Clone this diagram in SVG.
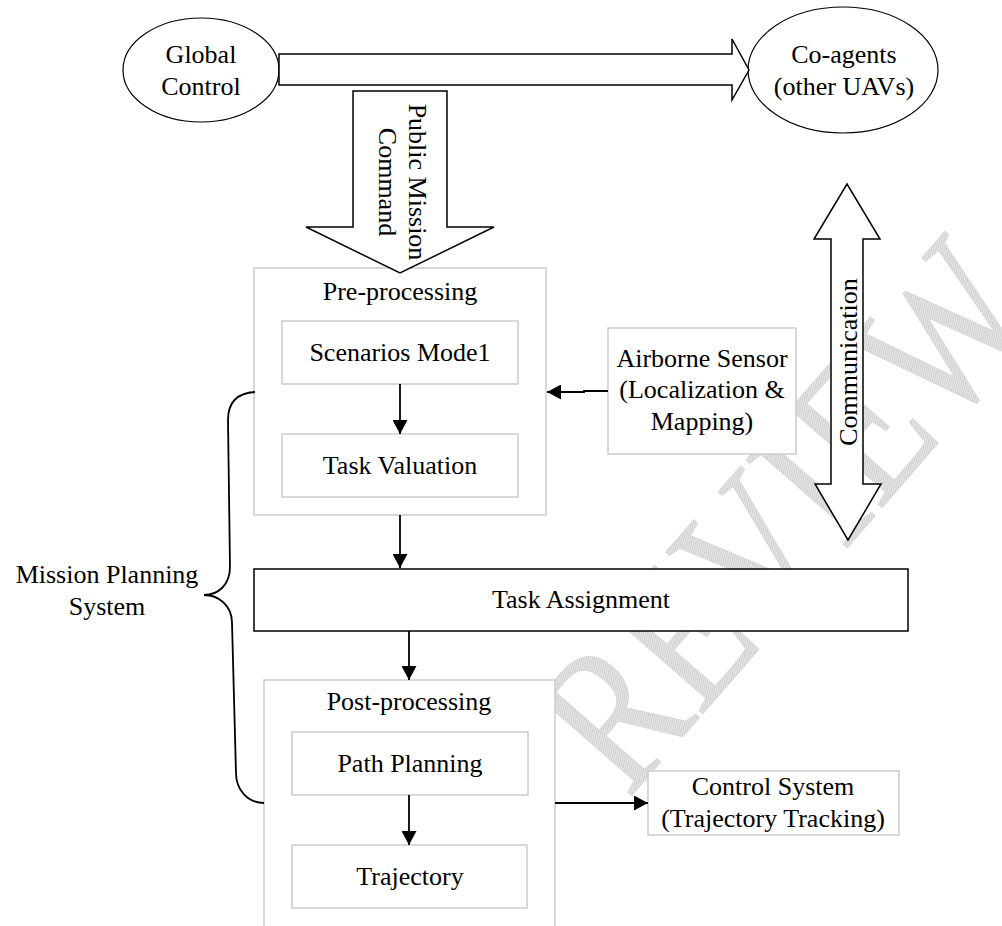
<svg xmlns="http://www.w3.org/2000/svg" width="1002" height="926" viewBox="0 0 1002 926">
<defs>
<style>
text{font-family:"Liberation Serif","Times New Roman",serif;font-size:26px;fill:#000;text-anchor:middle}
.gbox{fill:#fff;stroke:#cccccc;stroke-width:1.5}
.bbox{fill:#fff;stroke:#000;stroke-width:1.5}
.blk{fill:#fff;stroke:#000;stroke-width:1.5;stroke-linejoin:miter}
.ell{fill:#fff;stroke:#000;stroke-width:1.2}
.con{fill:none;stroke:#000;stroke-width:1.8}
.wm{font-size:205px;fill:url(#hatch);stroke:#d2d2d2;stroke-width:0.6;text-anchor:start}
</style>
<pattern id="hatch" width="3" height="3" patternUnits="userSpaceOnUse">
<rect width="3" height="3" fill="#e6e6e6"/>
<path d="M0,3 L3,0" stroke="#c6c6c6" stroke-width="1"/>
</pattern>
<marker id="ah" markerUnits="userSpaceOnUse" markerWidth="15" markerHeight="15" refX="14" refY="7.5" orient="auto">
<path d="M0,0 L14,7.5 L0,15 Z" fill="#000"/>
</marker>
</defs>
<rect width="1002" height="926" fill="#fff"/>
<g id="watermark">
<text class="wm" transform="translate(628,800) rotate(-49) scale(0.8,1)">REVIEW</text>
</g>
<g id="global-control">
<ellipse class="ell" cx="201" cy="70" rx="78" ry="52"/>
<text x="201" y="63">Global</text>
<text x="201" y="95">Control</text>
</g>
<g id="co-agents">
<ellipse class="ell" cx="843" cy="70" rx="95" ry="63"/>
<text x="844" y="63">Co-agents</text>
<text x="844" y="95">(other UAVs)</text>
</g>
<g id="pre-processing">
<rect class="gbox" x="254" y="268" width="292" height="247"/>
<text x="400" y="300">Pre-processing</text>
</g>
<g id="scenarios-model">
<rect class="gbox" x="282" y="321" width="236" height="63"/>
<text x="400" y="361">Scenarios Mode1</text>
</g>
<g id="task-valuation">
<rect class="gbox" x="282" y="434" width="236" height="63"/>
<text x="400" y="474">Task Valuation</text>
</g>
<g id="airborne-sensor">
<rect class="gbox" x="608" y="328" width="188" height="126"/>
<text x="702" y="367">Airborne Sensor</text>
<text x="702" y="398">(Localization &amp;</text>
<text x="702" y="430">Mapping)</text>
</g>
<g id="task-assignment">
<rect class="bbox" x="254" y="569" width="654" height="62"/>
<text x="581" y="608">Task Assignment</text>
</g>
<g id="post-processing">
<rect class="gbox" x="264" y="680" width="291" height="270"/>
<text x="409" y="710">Post-processing</text>
</g>
<g id="path-planning">
<rect class="gbox" x="292" y="732" width="236" height="63"/>
<text x="410" y="772">Path Planning</text>
</g>
<g id="trajectory">
<rect class="gbox" x="292" y="845" width="235" height="63"/>
<text x="410" y="885">Trajectory</text>
</g>
<g id="control-system">
<rect class="gbox" x="648" y="771" width="251" height="64"/>
<text x="773" y="795">Control System</text>
<text x="773" y="827">(Trajectory Tracking)</text>
</g>
<g id="mission-planning-system">
<path class="con" d="M255,392 C238,393 228,402 228,420 L230,567 C230,585 218,595 204,595 C218,595 232,605 232,623 L236,773 C236,790 248,803 264,803"/>
<text x="107" y="583">Mission Planning</text>
<text x="107" y="615">System</text>
</g>
<g id="connectors">
<polygon class="blk" points="279,54 732,54 732,39 749,70 732,100 732,85 279,85"/>
<polygon class="blk" points="353,91 447,91 447,227 494,227 400,273 306,227 353,227"/>
<text transform="translate(409,182) rotate(90)"><tspan x="0" y="0">Public Mission</tspan><tspan x="0" y="-30" dy="60">Command</tspan></text>
<polygon class="blk" points="847,184 880,239 863,239 863,484 881,484 848,540 815,484 831,484 831,239 814,239"/>
<text transform="translate(857,362) rotate(-90)">Communication</text>
<line class="con" x1="400" y1="384" x2="400" y2="434" marker-end="url(#ah)"/>
<path class="con" d="M608,391 L584,391 L584,392 L547,392" marker-end="url(#ah)"/>
<line class="con" x1="400" y1="515" x2="400" y2="568" marker-end="url(#ah)"/>
<line class="con" x1="409" y1="631" x2="409" y2="680" marker-end="url(#ah)"/>
<line class="con" x1="409" y1="795" x2="409" y2="845" marker-end="url(#ah)"/>
<line class="con" x1="555" y1="803" x2="648" y2="803" marker-end="url(#ah)"/>
</g>
</svg>
